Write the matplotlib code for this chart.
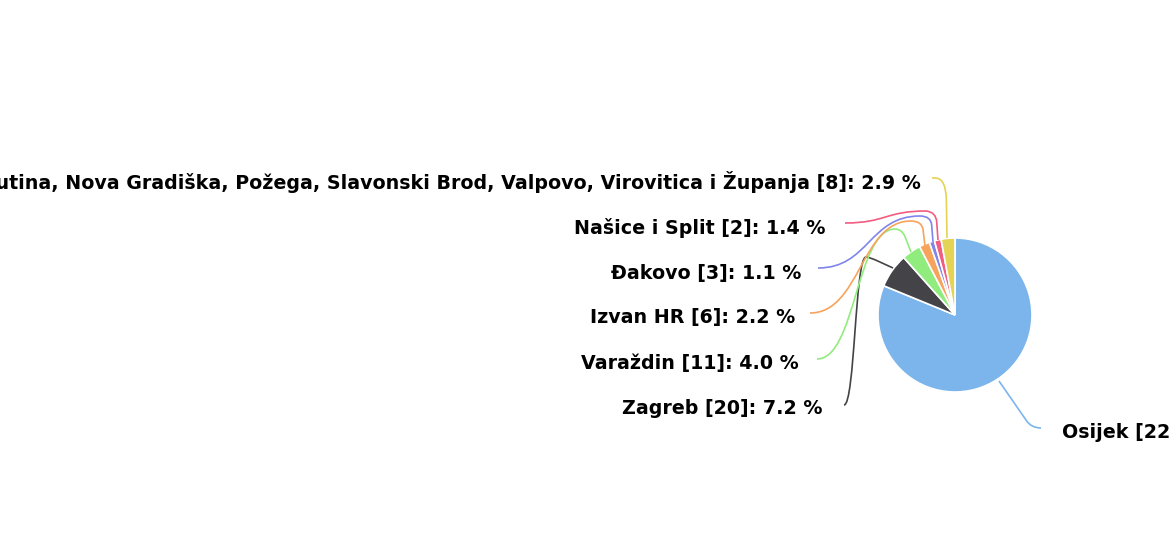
import matplotlib
matplotlib.use('Agg')
import matplotlib.pyplot as plt
from matplotlib.path import Path
from matplotlib.patches import PathPatch

# podaci
mjesta = ['Osijek', 'Zagreb', 'Varaždin', 'Izvan HR', 'Đakovo', 'Našice i Split',
          'Donji Miholjac, Kutina, Nova Gradiška, Požega, Slavonski Brod, Valpovo, Virovitica i Županja']
broj = [225, 20, 11, 6, 3, 2, 8]
postotak = [81.2, 7.2, 4.0, 2.2, 1.1, 1.4, 2.9]
boje = ['#7cb5ec', '#434348', '#90ed7d', '#f7a35c', '#8085e9', '#f15c80', '#e4d354']

W, H = 1170, 543
cx, cy, R = 955, 315, 77   # pikseli, y odozgo

# label: (desni/lijevi rub x, y, poravnanje)
lab_pos = [(1062, 433, 'left'), (822, 408, 'right'), (799, 363, 'right'), (795, 318, 'right'),
           (801, 274, 'right'), (826, 228, 'right'), (921, 182, 'right')]
# spojnice: start, vrh, kontrola zavoja, kraj
spojnice = [
    [(1041, 428), (1026, 420), (1031, 428), (999, 381)],
    [(844, 405), (866, 257), (869, 257), (893, 268)],
    [(817, 359), (895, 229), (902, 229), (911, 252)],
    [(810, 313), (911, 221), (922, 221), (925, 246)],
    [(818, 268), (920, 216), (931, 216), (933, 242)],
    [(845, 223), (926, 211), (936, 212), (938, 240)],
    [(932, 178), (936, 178), (946, 179), (947, 238)],
]

fig = plt.figure(figsize=(W / 100, H / 100), dpi=100)
ax = fig.add_axes([0, 0, 1, 1])

def py(y):
    return H - y

ax.pie(postotak, colors=boje, startangle=90, counterclock=False, center=(cx, py(cy)),
       radius=R, frame=True, wedgeprops=dict(edgecolor='white', linewidth=1.2))

for i, (s, c, k, e) in enumerate(spojnice):
    s = (s[0], py(s[1])); c = (c[0], py(c[1])); k = (k[0], py(k[1])); e = (e[0], py(e[1]))
    if i == 0:
        # Osijek: kratki zavoj pa ravno do kriske
        verts = [s, k, c, e]
        codes = [Path.MOVETO, Path.CURVE3, Path.CURVE3, Path.LINETO]
    else:
        dx = c[0] - s[0]
        p = (k[0] + 0.35 * (e[0] - k[0]), k[1] + 0.35 * (e[1] - k[1]))
        verts = [s, (s[0] + 0.5 * dx, s[1]), (c[0] - 0.5 * dx, c[1]), c, k, p, e]
        codes = [Path.MOVETO, Path.CURVE4, Path.CURVE4, Path.CURVE4, Path.CURVE3, Path.CURVE3, Path.LINETO]
    ax.add_patch(PathPatch(Path(verts, codes), fill=False, edgecolor=boje[i], linewidth=1.2))

for i, (x, y, ha) in enumerate(lab_pos):
    txt = '%s [%d]: %.1f %%' % (mjesta[i], broj[i], postotak[i])
    ax.text(x, py(y), txt, ha=ha, va='center', fontsize=13.7, fontweight='bold', color='black')

ax.set_xlim(0, W)
ax.set_ylim(0, H)
ax.set_aspect('equal')
ax.axis('off')
fig.savefig('out.png', dpi=100, facecolor='white')
